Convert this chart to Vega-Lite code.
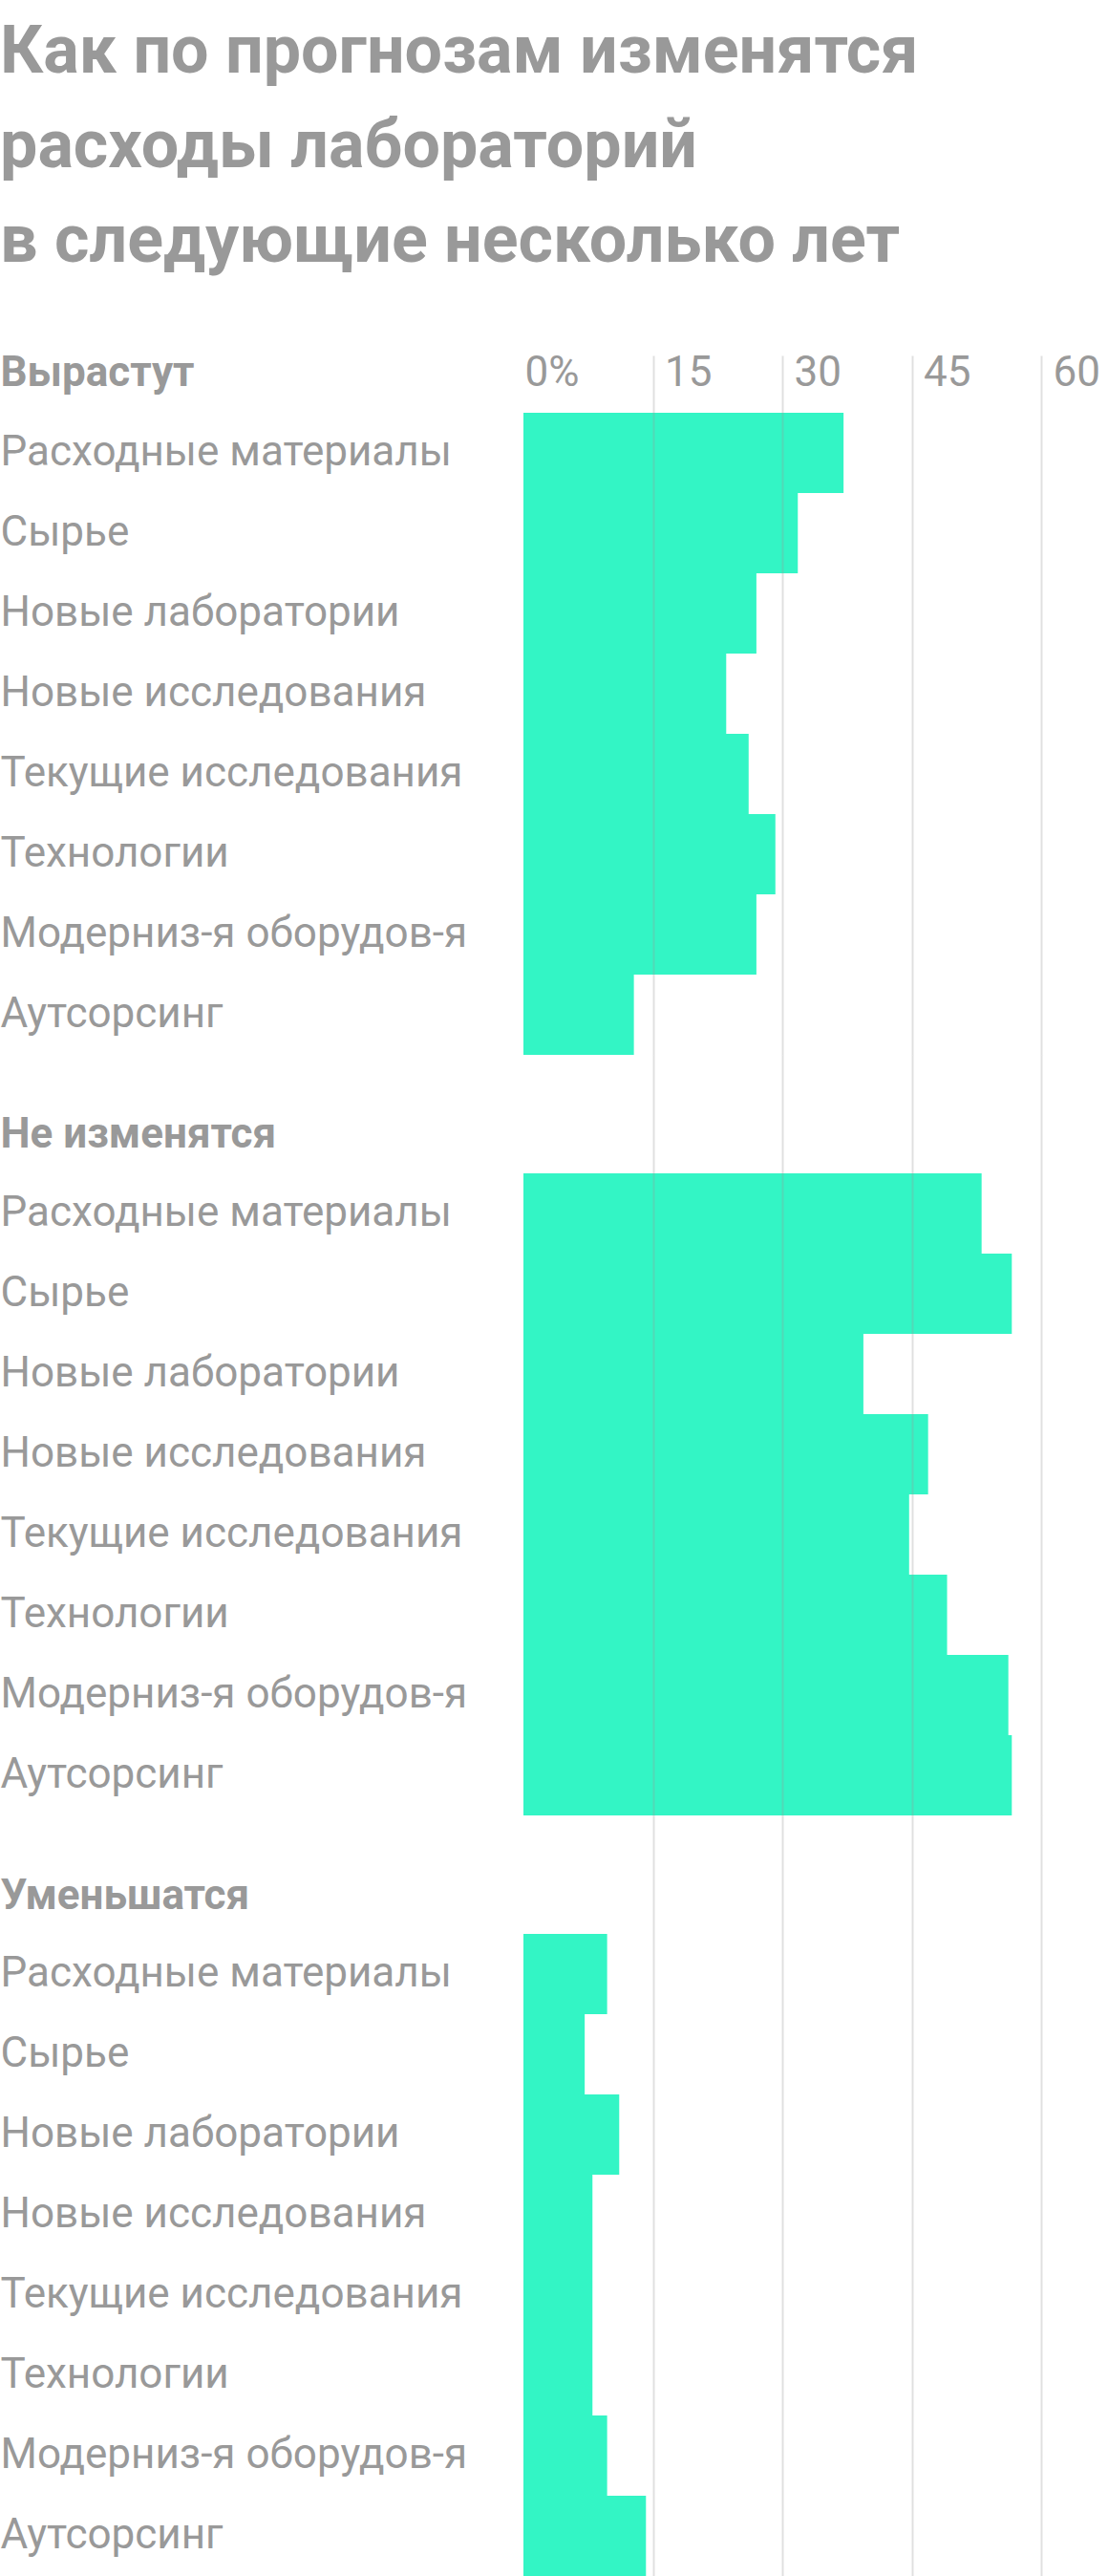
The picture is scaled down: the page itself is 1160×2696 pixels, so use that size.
{
  "$schema": "https://vega.github.io/schema/vega-lite/v6.json",
  "background": "white",
  "padding": {"top": 20, "left": 0, "right": 0, "bottom": 0},
  "title": {
    "text": ["Как по прогнозам изменятся", "расходы лабораторий", "в следующие несколько лет"],
    "anchor": "start",
    "frame": "bounds",
    "font": "Roboto",
    "fontSize": 70,
    "fontWeight": "bold",
    "color": "#999999",
    "lineHeight": 99,
    "offset": 79
  },
  "config": {
    "view": {"stroke": null},
    "font": "Roboto",
    "bar": {"color": "#33f5c5"},
    "axisY": {
      "titleAngle": 0,
      "titleAlign": "left",
      "titleBaseline": "alphabetic",
      "titleX": -548,
      "titleFont": "Roboto",
      "titleFontSize": 44,
      "titleFontWeight": "bold",
      "titleColor": "#999999",
      "labelAlign": "left",
      "labelBaseline": "middle",
      "labelPadding": 548,
      "labelFont": "Roboto",
      "labelFontSize": 44,
      "labelColor": "#999999",
      "labelLimit": 600,
      "ticks": false,
      "tickSize": 0,
      "domain": false,
      "grid": false
    },
    "axisX": {
      "ticks": false,
      "tickSize": 0,
      "domain": false,
      "grid": true,
      "gridColor": "#999999",
      "gridWidth": 2,
      "title": null,
      "labelFont": "Roboto",
      "labelFontSize": 44,
      "labelColor": "#999999",
      "labelFlush": false
    }
  },
  "data": {
    "values": [
      {"group": "Вырастут", "item": "Расходные материалы", "value": 37.1},
      {"group": "Вырастут", "item": "Сырье", "value": 31.8},
      {"group": "Вырастут", "item": "Новые лаборатории", "value": 27.0},
      {"group": "Вырастут", "item": "Новые исследования", "value": 23.5},
      {"group": "Вырастут", "item": "Текущие исследования", "value": 26.1},
      {"group": "Вырастут", "item": "Технологии", "value": 29.2},
      {"group": "Вырастут", "item": "Модерниз-я оборудов-я", "value": 27.0},
      {"group": "Вырастут", "item": "Аутсорсинг", "value": 12.8},
      {"group": "Не изменятся", "item": "Расходные материалы", "value": 53.1},
      {"group": "Не изменятся", "item": "Сырье", "value": 56.6},
      {"group": "Не изменятся", "item": "Новые лаборатории", "value": 39.4},
      {"group": "Не изменятся", "item": "Новые исследования", "value": 46.9},
      {"group": "Не изменятся", "item": "Текущие исследования", "value": 44.7},
      {"group": "Не изменятся", "item": "Технологии", "value": 49.1},
      {"group": "Не изменятся", "item": "Модерниз-я оборудов-я", "value": 56.2},
      {"group": "Не изменятся", "item": "Аутсорсинг", "value": 56.6},
      {"group": "Уменьшатся", "item": "Расходные материалы", "value": 9.7},
      {"group": "Уменьшатся", "item": "Сырье", "value": 7.1},
      {"group": "Уменьшатся", "item": "Новые лаборатории", "value": 11.1},
      {"group": "Уменьшатся", "item": "Новые исследования", "value": 8.0},
      {"group": "Уменьшатся", "item": "Текущие исследования", "value": 8.0},
      {"group": "Уменьшатся", "item": "Технологии", "value": 8.0},
      {"group": "Уменьшатся", "item": "Модерниз-я оборудов-я", "value": 9.7},
      {"group": "Уменьшатся", "item": "Аутсорсинг", "value": 14.2}
    ]
  },
  "spacing": 0,
  "resolve": {"scale": {"x": "independent", "y": "independent"}},
  "vconcat": [
    {
      "width": 542,
      "height": 732,
      "transform": [{"filter": "datum.group === 'Вырастут'"}],
      "mark": "bar",
      "encoding": {
        "y": {
          "field": "item",
          "type": "nominal",
          "scale": {
            "domain": ["Расходные материалы", "Сырье", "Новые лаборатории", "Новые исследования", "Текущие исследования", "Технологии", "Модерниз-я оборудов-я", "Аутсорсинг"],
            "paddingInner": 0,
            "paddingOuter": 0.357,
            "align": 1
          },
          "axis": {"title": "Вырастут", "titleY": 31}
        },
        "x": {
          "field": "value",
          "type": "quantitative",
          "scale": {"domain": [0, 60], "nice": false},
          "axis": {
            "orient": "top",
            "values": [0, 15, 30, 45, 60],
            "zindex": 1,
            "labelExpr": "datum.value === 0 ? '0%' : datum.label",
            "labelAlign": "left",
            "labelBaseline": "alphabetic",
            "labelPadding": -31,
            "labelOffset": {"condition": {"test": "datum.value === 0", "value": 1}, "value": 12},
            "gridOpacity": {"condition": {"test": "datum.value === 0", "value": 0}, "value": 0.3}
          }
        }
      }
    },
    {
      "width": 542,
      "height": 796,
      "transform": [{"filter": "datum.group === 'Не изменятся'"}],
      "mark": "bar",
      "encoding": {
        "y": {
          "field": "item",
          "type": "nominal",
          "scale": {
            "domain": ["Расходные материалы", "Сырье", "Новые лаборатории", "Новые исследования", "Текущие исследования", "Технологии", "Модерниз-я оборудов-я", "Аутсорсинг"],
            "paddingInner": 0,
            "paddingOuter": 0.738,
            "align": 1
          },
          "axis": {"title": "Не изменятся", "titleY": 96}
        },
        "x": {
          "field": "value",
          "type": "quantitative",
          "scale": {"domain": [0, 60], "nice": false},
          "axis": {
            "orient": "top",
            "values": [0, 15, 30, 45, 60],
            "zindex": 1,
            "labels": false,
            "gridOpacity": {"condition": {"test": "datum.value === 0", "value": 0}, "value": 0.3}
          }
        }
      }
    },
    {
      "width": 542,
      "height": 796,
      "transform": [{"filter": "datum.group === 'Уменьшатся'"}],
      "mark": "bar",
      "encoding": {
        "y": {
          "field": "item",
          "type": "nominal",
          "scale": {
            "domain": ["Расходные материалы", "Сырье", "Новые лаборатории", "Новые исследования", "Текущие исследования", "Технологии", "Модерниз-я оборудов-я", "Аутсорсинг"],
            "paddingInner": 0,
            "paddingOuter": 0.738,
            "align": 1
          },
          "axis": {"title": "Уменьшатся", "titleY": 97}
        },
        "x": {
          "field": "value",
          "type": "quantitative",
          "scale": {"domain": [0, 60], "nice": false},
          "axis": {
            "orient": "top",
            "values": [0, 15, 30, 45, 60],
            "zindex": 1,
            "labels": false,
            "gridOpacity": {"condition": {"test": "datum.value === 0", "value": 0}, "value": 0.3}
          }
        }
      }
    }
  ]
}
